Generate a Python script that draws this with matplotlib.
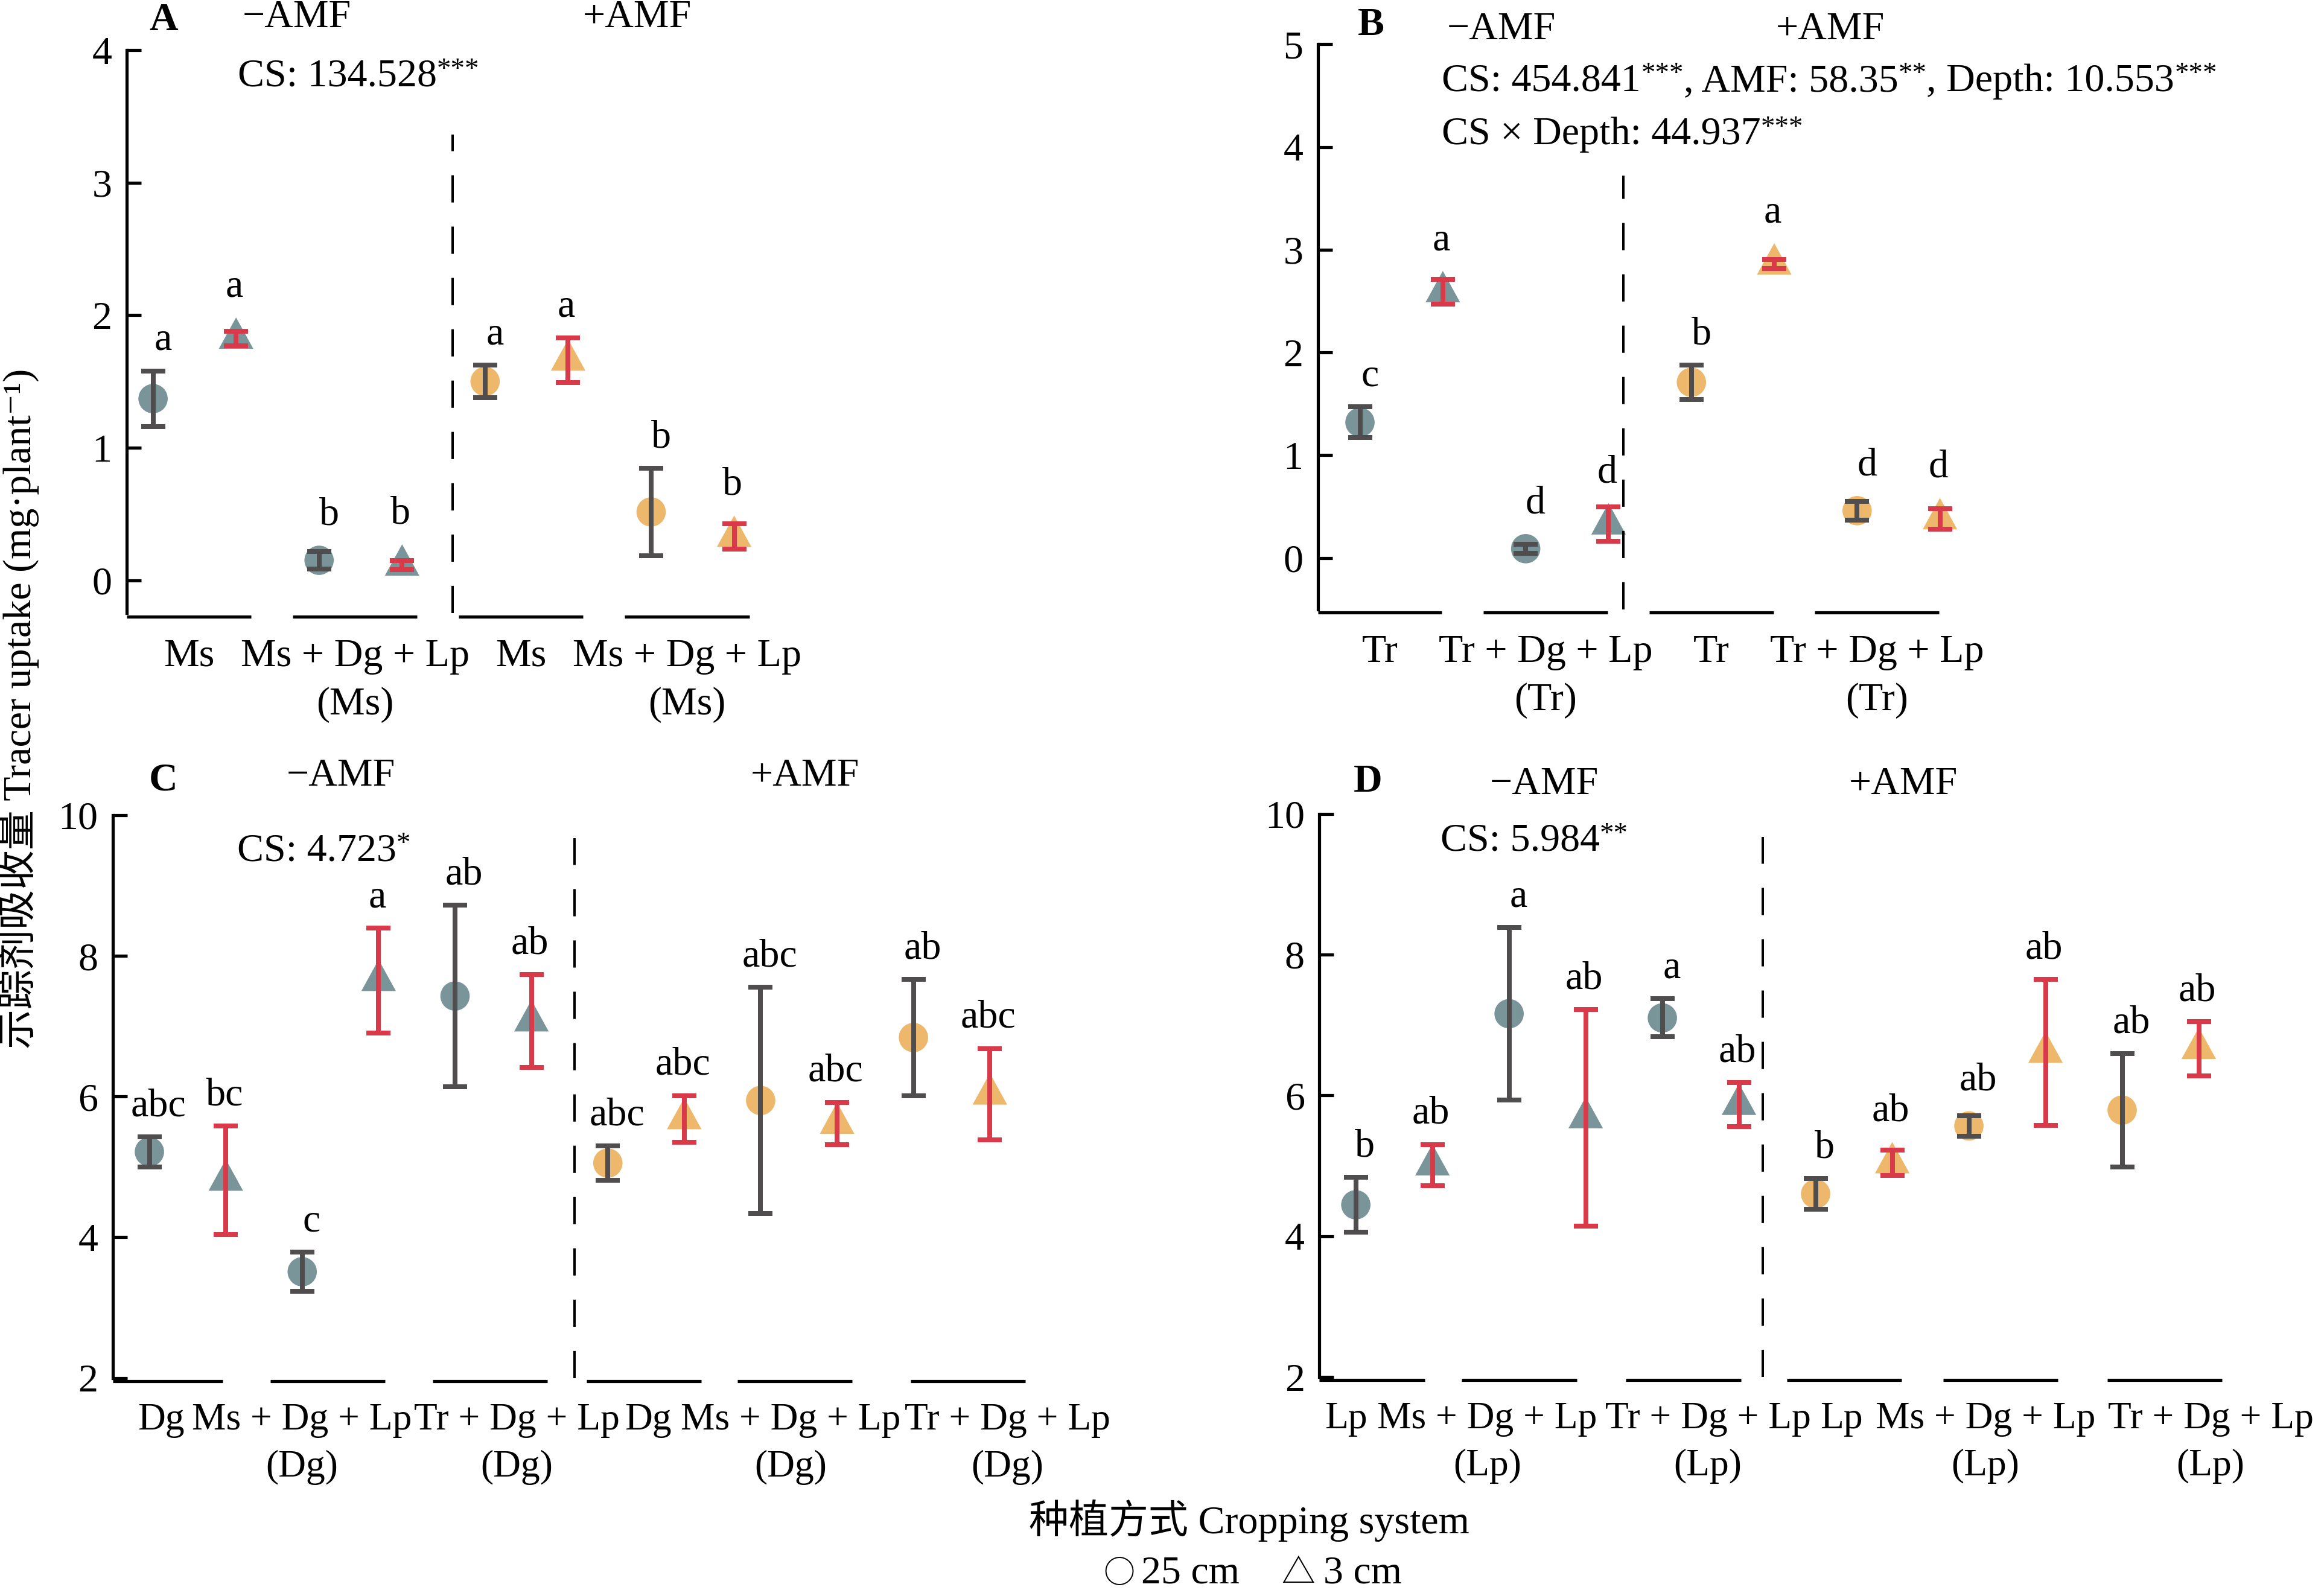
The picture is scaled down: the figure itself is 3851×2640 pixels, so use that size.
import matplotlib
matplotlib.use('Agg')
import matplotlib.pyplot as plt
import matplotlib.transforms as mtransforms

plt.rcParams['font.family'] = ['Liberation Serif', 'Noto Sans CJK SC', 'DejaVu Serif']

TEAL = '#7A959A'
ORANGE = '#EDB86B'
GREY = '#4F4D4E'
RED = '#D93A4A'

# ---- data (mean, error) for 25 cm (circles) and 3 cm (triangles) ----
# panel A
a_groups = ['Ms', 'Ms + Dg + Lp\n(Ms)', 'Ms', 'Ms + Dg + Lp\n(Ms)']
a_mean_25 = [1.37, 0.15, 1.50, 0.515]
a_err_25 = [0.21, 0.065, 0.123, 0.33]
a_mean_3 = [1.825, 0.113, 1.66, 0.33]
a_err_3 = [0.055, 0.033, 0.17, 0.095]
a_let_25 = ['a', 'b', 'a', 'b']
a_let_3 = ['a', 'b', 'a', 'b']

# panel B
b_groups = ['Tr', 'Tr + Dg + Lp\n(Tr)', 'Tr', 'Tr + Dg + Lp\n(Tr)']
b_mean_25 = [1.32, 0.09, 1.71, 0.46]
b_err_25 = [0.15, 0.045, 0.165, 0.09]
b_mean_3 = [2.59, 0.33, 2.86, 0.38]
b_err_3 = [0.12, 0.17, 0.045, 0.10]
b_let_25 = ['c', 'd', 'b', 'd']
b_let_3 = ['a', 'd', 'a', 'd']

# panel C
c_groups = ['Dg', 'Ms + Dg + Lp\n(Dg)', 'Tr + Dg + Lp\n(Dg)',
            'Dg', 'Ms + Dg + Lp\n(Dg)', 'Tr + Dg + Lp\n(Dg)']
c_mean_25 = [5.215, 3.51, 7.43, 5.055, 5.945, 6.84]
c_err_25 = [0.215, 0.28, 1.29, 0.245, 1.61, 0.83]
c_mean_3 = [4.81, 7.65, 7.075, 5.685, 5.62, 6.035]
c_err_3 = [0.77, 0.745, 0.66, 0.33, 0.30, 0.65]
c_let_25 = ['abc', 'c', 'ab', 'abc', 'abc', 'ab']
c_let_3 = ['bc', 'a', 'ab', 'abc', 'abc', 'abc']

# panel D
d_groups = ['Lp', 'Ms + Dg + Lp\n(Lp)', 'Tr + Dg + Lp\n(Lp)',
            'Lp', 'Ms + Dg + Lp\n(Lp)', 'Tr + Dg + Lp\n(Lp)']
d_mean_25 = [4.445, 7.16, 7.10, 4.60, 5.565, 5.79]
d_err_25 = [0.39, 1.225, 0.27, 0.22, 0.145, 0.805]
d_mean_3 = [5.01, 5.68, 5.87, 5.04, 6.61, 6.665]
d_err_3 = [0.29, 1.54, 0.31, 0.18, 1.04, 0.385]
d_let_25 = ['b', 'a', 'a', 'b', 'ab', 'ab']
d_let_3 = ['ab', 'ab', 'ab', 'ab', 'ab', 'ab']

# label / underline placement for the crowded lower panels (layout only)
c_label_x = [-0.06, 0.864, 2.27, 3.13, 4.06, 5.48]
c_line_x = [-0.03, 1.03, 2.095, 3.10, 4.09, 5.22]
d_label_x = [-0.2, 0.72, 2.16, 3.03, 3.97, 5.44]
d_line_x = [-0.06, 0.93, 2.0, 3.05, 4.07, 5.14]

FIG_W, FIG_H = 15.404, 10.56
FS = 19
SFS = 19
STAR_FS = 13.5
TRI = [(0, 0.667), (-0.55, -0.333), (0.55, -0.333), (0, 0.667)]
CIRC_MS = 14
TRI_MS = 20


def draw_panel(ax, rect, groups, m25, e25, m3, e3, l25, l3, off, ylim, yticks,
               dash_x, dash_top, label_x=None, line_x=None, label_fs=FS):
    n = len(groups)
    half = n // 2
    fill = [TEAL] * half + [ORANGE] * (n - half)
    x25 = [g + off for g in range(n)]
    x3 = [g + off + 0.5 for g in range(n)]
    if label_x is None:
        label_x = list(range(n))
    if line_x is None:
        line_x = list(range(n))

    ax.scatter(x25, m25, s=CIRC_MS ** 2, c=fill, marker='o', linewidths=0,
               zorder=2, clip_on=False)
    ax.scatter(x3, m3, s=TRI_MS ** 2, c=fill, marker=TRI, linewidths=0,
               zorder=2, clip_on=False)
    for xs, ms, es, col in [(x25, m25, e25, GREY), (x3, m3, e3, RED)]:
        eb = ax.errorbar(xs, ms, yerr=es, fmt='none', ecolor=col, elinewidth=2.3,
                         capsize=5.9, capthick=2.3, zorder=3)
        for art in eb.lines[1]:
            art.set_clip_on(False)
        for art in eb.lines[2]:
            art.set_clip_on(False)

    ax.set_xlim(-0.375, n - 1 + 0.375)
    ax.set_ylim(*ylim)
    ax.set_yticks(yticks)
    ax.set_xticks(label_x)
    ax.set_xticklabels(groups, fontsize=label_fs, linespacing=1.45)
    ax.tick_params(axis='x', length=0, pad=12)
    ax.tick_params(axis='y', direction='in', length=7, width=1.5, pad=7,
                   labelsize=FS)
    for s in ['top', 'right', 'bottom']:
        ax.spines[s].set_visible(False)
    ax.spines['left'].set_linewidth(1.5)

    trans = mtransforms.blended_transform_factory(ax.transData, ax.transAxes)
    for c in line_x:
        ax.plot([max(c - 0.375, -0.375), c + 0.375], [-0.006, -0.006],
                transform=trans, color='k', lw=1.5, clip_on=False,
                solid_capstyle='butt')

    ax.axvline(dash_x, ymin=0, ymax=dash_top, color='k', lw=1.15,
               linestyle=(0, (11.3, 10)))

    # significance letters above error bars
    pts_per_data = rect[3] * FIG_H * 72 / (ylim[1] - ylim[0])
    for xs, ms, es, ls, top, dx in [(x25, m25, e25, l25, CIRC_MS / 2, 0.06),
                                    (x3, m3, e3, l3, TRI_MS * 0.5, -0.01)]:
        for x, m, e, lab in zip(xs, ms, es, ls):
            lift = max(e * pts_per_data, top) + 10
            ax.annotate(lab, xy=(x + dx, m), xytext=(0, lift),
                        textcoords='offset points', ha='center', va='baseline',
                        fontsize=FS, annotation_clip=False)


def stat_line(ax, x, y, parts):
    # text pieces followed by small superscript stars
    base = ax.text(x, y, parts[0][0], transform=ax.transAxes, fontsize=SFS,
                   ha='left', va='baseline')
    prev = base
    for i, (txt, stars) in enumerate(parts):
        if i > 0:
            prev = ax.annotate(txt, xy=(1, 0), xycoords=(prev, base),
                               ha='left', va='bottom', fontsize=SFS,
                               annotation_clip=False)
        if stars:
            prev = ax.annotate(stars, xy=(1, 1.04), xycoords=(prev, base),
                               ha='left', va='top', fontsize=STAR_FS,
                               annotation_clip=False)


def headers(ax, letter, lx, ly, mx, px, hy):
    ax.text(lx, ly, letter, transform=ax.transAxes, fontsize=FS,
            fontweight='bold', ha='center', va='center')
    ax.text(mx, hy, '\u2212AMF', transform=ax.transAxes, fontsize=FS,
            ha='center', va='center')
    ax.text(px, hy, '+AMF', transform=ax.transAxes, fontsize=FS,
            ha='center', va='center')


fig = plt.figure(figsize=(FIG_W, FIG_H), dpi=250)

rect_a = [0.0545, 0.615, 0.2679, 0.3535]
rect_b = [0.567, 0.6175, 0.2674, 0.3547]
rect_c = [0.0485, 0.135, 0.385, 0.3532]
rect_d = [0.5677, 0.1357, 0.3835, 0.3534]

ax_a = fig.add_axes(rect_a)
draw_panel(ax_a, rect_a, a_groups, a_mean_25, a_err_25, a_mean_3, a_err_3,
           a_let_25, a_let_3, -0.216, (-0.25, 4), [0, 1, 2, 3, 4], 1.59, 0.85)
headers(ax_a, 'A', 0.059, 1.053, 0.273, 0.82, 1.058)
stat_line(ax_a, 0.178, 0.936, [('CS: 134.528', '***')])

ax_b = fig.add_axes(rect_b)
draw_panel(ax_b, rect_b, b_groups, b_mean_25, b_err_25, b_mean_3, b_err_3,
           b_let_25, b_let_3, -0.12, (-0.5, 5), [0, 1, 2, 3, 4, 5], 1.47, 0.768)
headers(ax_b, 'B', 0.0856, 1.034, 0.2955, 0.825, 1.026)
stat_line(ax_b, 0.20, 0.9175, [('CS: 454.841', '***'), (', AMF: 58.35', '**'),
                               (', Depth: 10.553', '***')])
stat_line(ax_b, 0.20, 0.823, [('CS \u00d7 Depth: 44.937', '***')])

ax_c = fig.add_axes(rect_c)
draw_panel(ax_c, rect_c, c_groups, c_mean_25, c_err_25, c_mean_3, c_err_3,
           c_let_25, c_let_3, -0.135, (2, 10), [2, 4, 6, 8, 10], 2.645, 0.959,
           c_label_x, c_line_x, 18.3)
headers(ax_c, 'C', 0.0563, 1.062, 0.255, 0.774, 1.07)
stat_line(ax_c, 0.139, 0.919, [('CS: 4.723', '*')])

ax_d = fig.add_axes(rect_d)
draw_panel(ax_d, rect_d, d_groups, d_mean_25, d_err_25, d_mean_3, d_err_3,
           d_let_25, d_let_3, -0.137, (2, 10), [2, 4, 6, 8, 10], 2.52, 0.959,
           d_label_x, d_line_x, 18.3)
headers(ax_d, 'D', 0.0545, 1.057, 0.2524, 0.655, 1.052)
stat_line(ax_d, 0.136, 0.9345, [('CS: 5.984', '**')])

fig.text(0.0077, 0.5553, '示踪剂吸收量 Tracer uptake (mg·plant\u207b\u00b9)',
         rotation=90, fontsize=FS, ha='center', va='center')
fig.text(0.5376, 0.0455, '种植方式 Cropping system', fontsize=FS,
         ha='center', va='center')
sym_font = ['Noto Sans CJK SC', 'DejaVu Sans']
fig.text(0.4815, 0.0121, '\u25cb', family=sym_font, fontsize=15,
         ha='center', va='center')
fig.text(0.4911, 0.0121, '25 cm', fontsize=FS, ha='left', va='center')
fig.text(0.5587, 0.0121, '\u25b3', family=sym_font, fontsize=16,
         ha='center', va='center')
fig.text(0.5695, 0.0121, '3 cm', fontsize=FS, ha='left', va='center')

fig.savefig('out.png', dpi=250)
